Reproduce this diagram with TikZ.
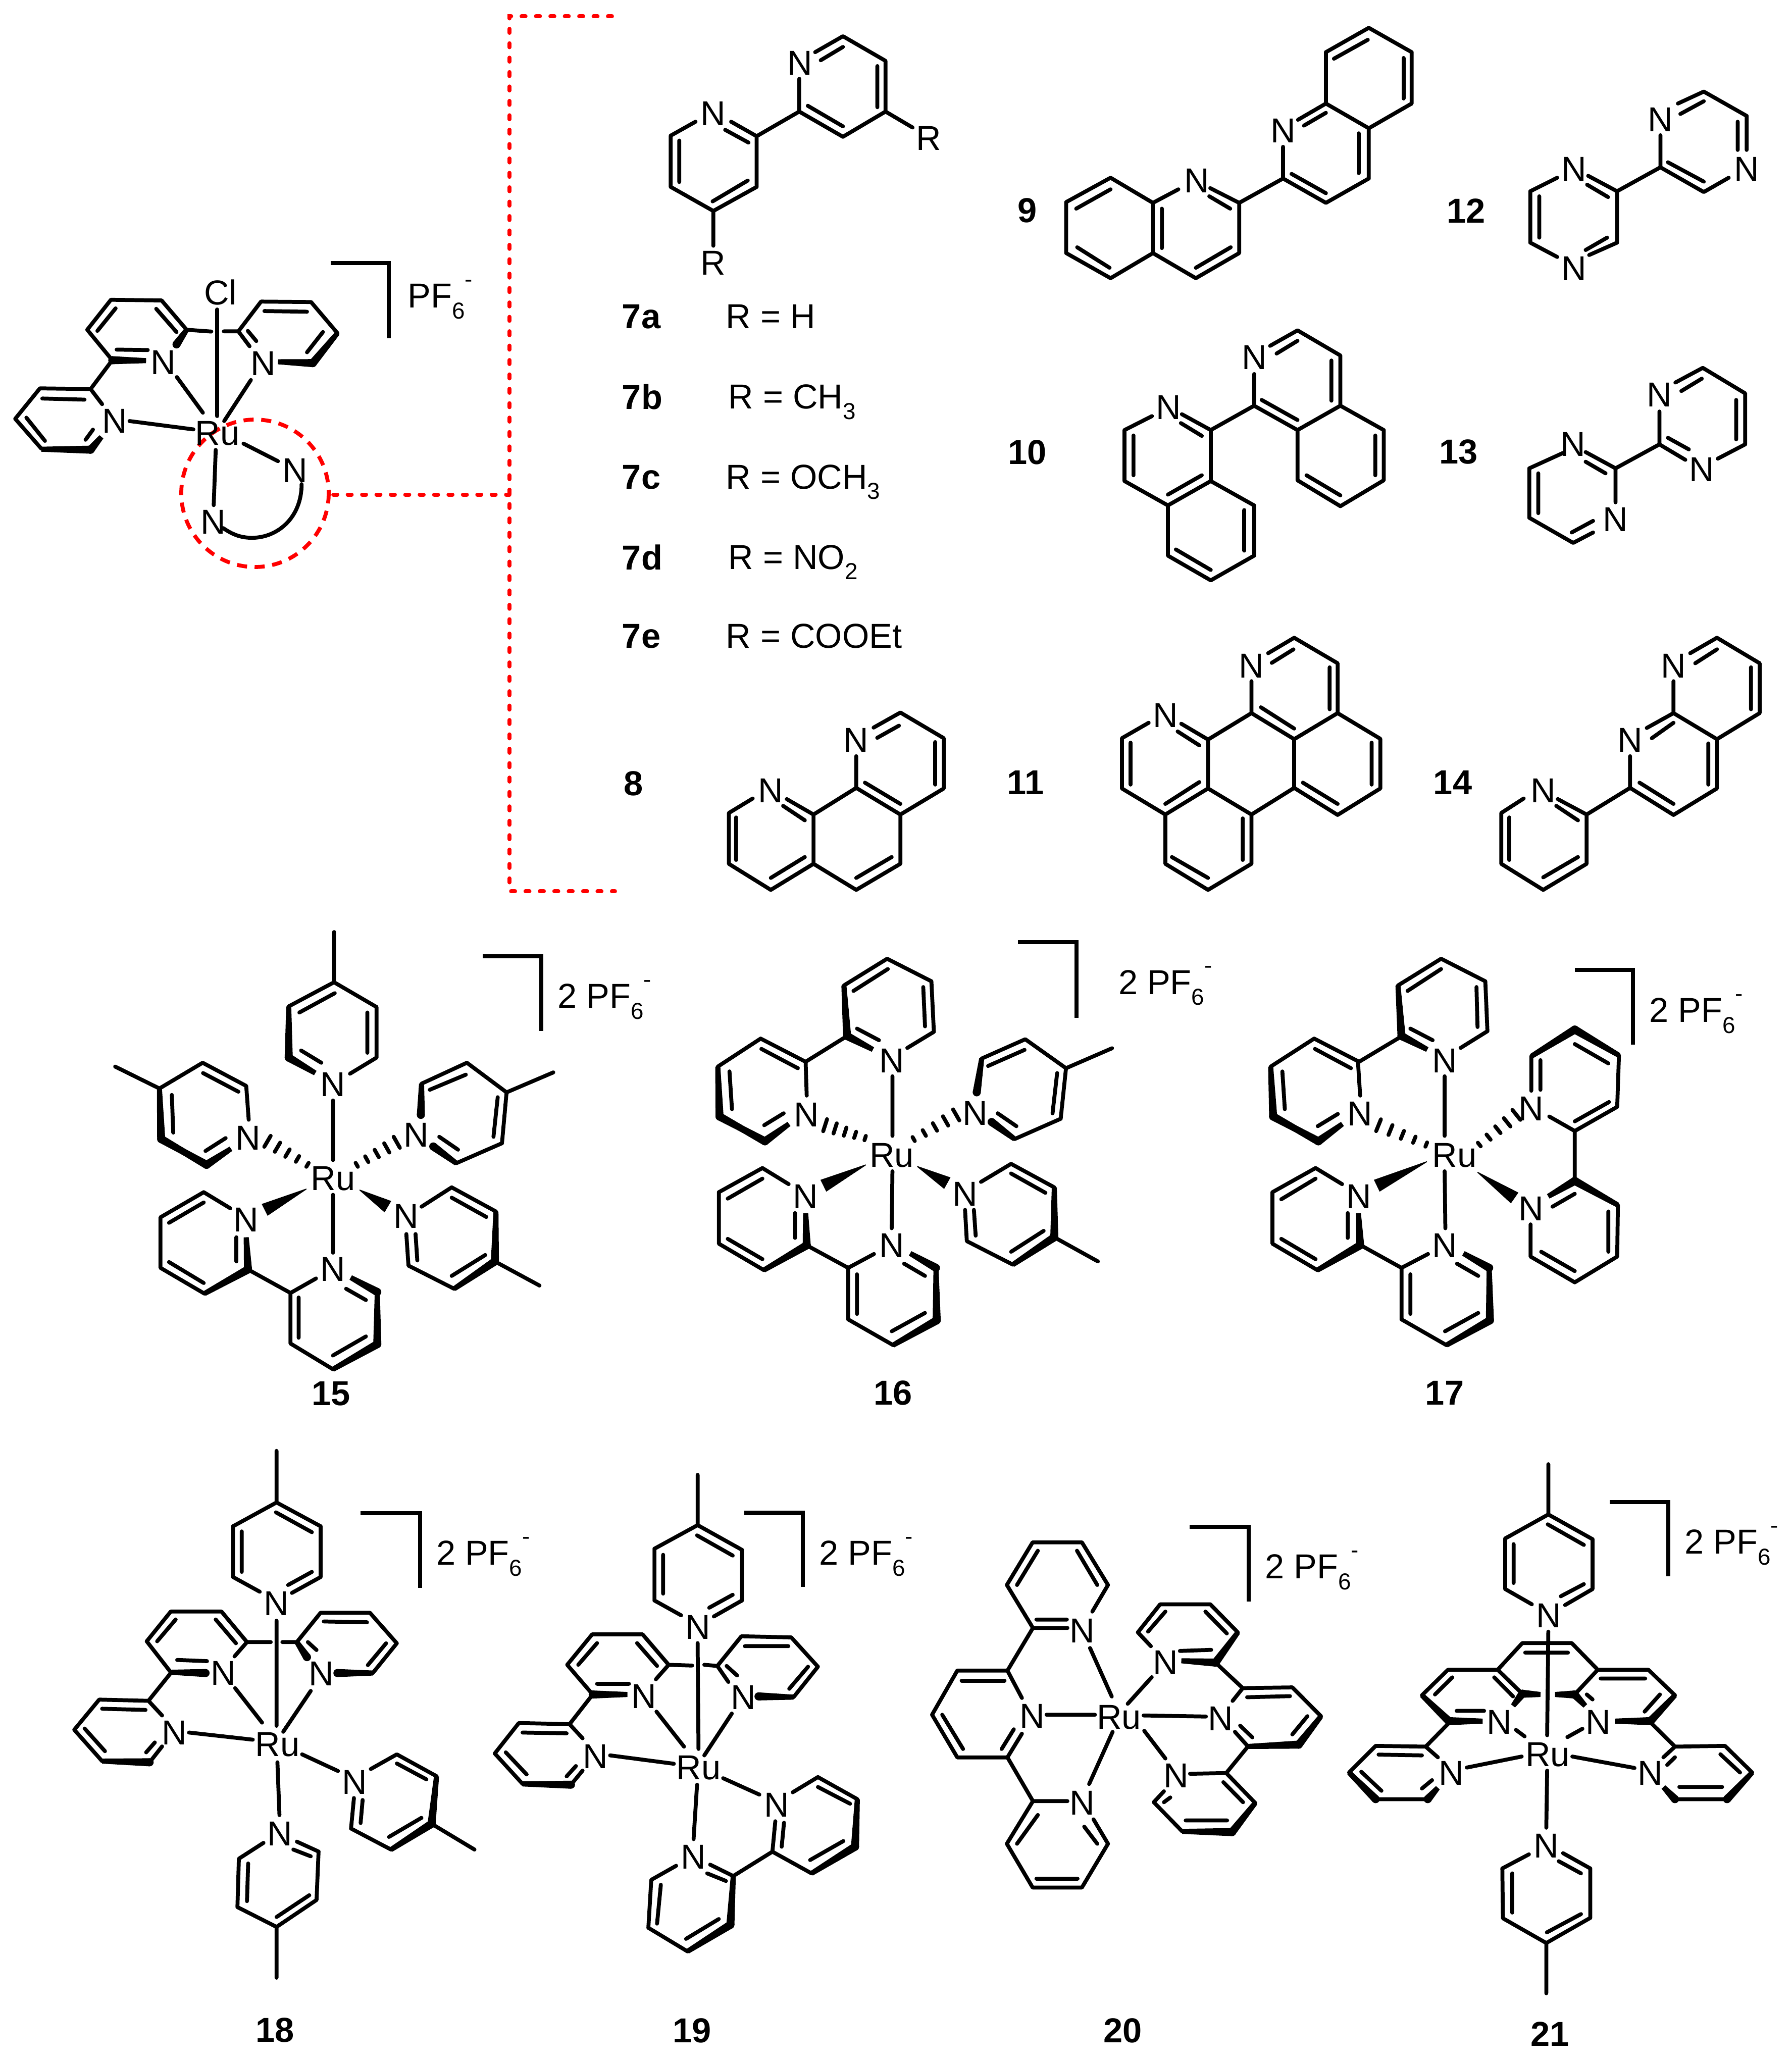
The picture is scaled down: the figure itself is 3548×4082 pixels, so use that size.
\documentclass[tikz,border=0pt]{standalone}
\usepackage{fontspec}
\setmainfont{Liberation Sans}
\definecolor{dashred}{RGB}{255,0,0}
\newcounter{lc}
\newcommand{\smallf}{\fontsize{13}{13}\selectfont}
\newcommand{\pfsix}{PF\raisebox{-0.32em}{\smallf 6}\raisebox{0.6em}{\smallf -}}
\newcommand{\subn}[1]{\raisebox{-0.3em}{\smallf #1}}
\newcommand{\lab}[2]{\stepcounter{lc}\node[atomlabel] (t\thelc) at (#1) {#2};}
\newcommand{\num}[2]{\stepcounter{lc}\node[numlabel] (t\thelc) at (#1) {#2};}
\newcommand{\txt}[2]{\stepcounter{lc}\node[textlabel] (t\thelc) at (#1) {#2};}
\newcommand{\numw}[2]{\stepcounter{lc}\node[numlabel,anchor=west] (t\thelc) at (#1) {#2};}
% unit normal of a bond, in scope units, for offsets given in reference pixels
\def\bbnorm#1,#2;#3,#4;{%
 \pgfmathsetmacro\bbdx{(#3-#1)*\sx}\pgfmathsetmacro\bbdy{(#4-#2)*\sy}%
 \pgfmathsetmacro\bblen{veclen(\bbdx,\bbdy)}%
 \pgfmathsetmacro\bbux{-\bbdy/\bblen/\sx}\pgfmathsetmacro\bbuy{\bbdx/\bblen/\sy}}
\def\bbpoly#1,#2;#3,#4;#5;#6;{%
 \bbnorm#1,#2;#3,#4;%
 \fill[boldb] (#1+#5*\bbux,#2+#5*\bbuy) -- (#3+#6*\bbux,#4+#6*\bbuy) -- (#3-#6*\bbux,#4-#6*\bbuy) -- (#1-#5*\bbux,#2-#5*\bbuy) -- cycle;}
% bold bond: narrower at #1, thick at #2
\def\bbend#1,#2;{\fill[boldb] (#1,#2) ellipse [x radius=8/\sx,y radius=8/\sy];}
\newcommand{\bb}[2]{\bbpoly#1;#2;5;8;\bbend#2;}
% solid wedge: tip at #1, wide at #2
\newcommand{\wdg}[2]{\bbpoly#1;#2;0.8;13;}
% hashed wedge: narrow at #1, wide at #2
\def\hshi#1,#2;#3,#4;{%
 \bbnorm#1,#2;#3,#4;%
 \foreach \t/\h in {0/4.5,0.25/6.5,0.5/8.5,0.75/10.5,1/12.5}{%
  \pgfmathsetmacro\cxx{#1+\t*(#3-#1)}\pgfmathsetmacro\cyy{#2+\t*(#4-#2)}%
  \draw[bond] (\cxx+\h*\bbux,\cyy+\h*\bbuy) -- (\cxx-\h*\bbux,\cyy-\h*\bbuy);}}
\newcommand{\hsh}[2]{\hshi#1;#2;}
\tikzset{
 bond/.style={line width=2.2pt,line cap=round,line join=round,black},
 bracket/.style={line width=2.3pt,line join=miter,black},
 boldb/.style={black},
 atomlabel/.style={inner sep=0pt,font=\fontsize{19.5}{20}\selectfont},
 numlabel/.style={inner sep=0pt,font=\fontsize{19.5}{20}\selectfont\bfseries},
 textlabel/.style={inner sep=0pt,anchor=base west,font=\fontsize{19.5}{20}\selectfont},
 reddash/.style={line width=2.2pt,dashred,dash pattern=on 0.2cm off 0.15cm},
 reddot/.style={line width=2.2pt,dashred,line cap=round,dash pattern=on 0.08cm off 0.205cm},
 zoomed/.style n args={4}{shift={(#1,#2)},xscale=#3/1568,yscale=#4/1568,/utils/exec={\pgfmathsetmacro\sx{#3/1568}\pgfmathsetmacro\sy{#4/1568}}}
}
\begin{document}
\begin{tikzpicture}[x=0.01cm,y=-0.01cm]
\useasboundingbox (0,0) rectangle (3548,4082);
% ---------- red markers
\draw[reddash] (505,977) circle (146);
\coordinate (rt) at (1212,32); \coordinate (rc) at (1009,32);
\coordinate (rb) at (1009,1765); \coordinate (re) at (1218,1765);
\coordinate (rm) at (1009,980); \coordinate (rs) at (660,980);
\draw[reddot] (rt) -- (rc) -- (rb) -- (re);
\draw[reddot] (rs) -- (rm);
% ---------- Ru-Cl complex
\begin{scope}[zoomed={0}{450}{1050}{700}]
\draw[bond] (268,718)--(118,715)--(45,850)--(122,982) (268,718)--(302,785)
 (125,760)--(250,765) (78,845)--(133,948) (275,898)--(253,943)
 (332,590)--(258,455)--(328,322)--(478,325)--(552,455)
 (345,543)--(437,545) (288,460)--(342,360) (462,362)--(522,465)
 (552,455)--(625,463) (662,462)--(705,462) (332,590)--(268,718)
 (705,462)--(772,330)--(920,332)--(998,470) (705,462)--(738,528)
 (733,460)--(758,505) (782,372)--(908,375) (955,465)--(908,555)
 (642,365)--(642,838) (523,665)--(600,823) (742,678)--(663,860)
 (383,860)--(572,897) (638,988)--(632,1233) (720,960)--(822,1038);
\draw[bond] (892,1140) .. controls (892,1290) and (820,1378) .. (745,1378) .. controls (705,1378) and (680,1355) .. (660,1335);
\bb{122,985}{268,987}\bb{300,930}{268,987}
\bb{552,455}{522,520}\bb{432,592}{332,590}
\bb{998,470}{925,603}\bb{822,597}{925,603}
\lab{482,600}{N}\lab{778,605}{N}\lab{340,860}{N}\lab{872,1080}{N}\lab{630,1308}{N}
\lab{643,915}{Ru}\lab{652,290}{Cl}
\txt{1205,358}{\pfsix}
\draw[bracket] (978,160)--(1150,160)--(1150,492);
\end{scope}
% ---------- 7
\begin{scope}[zoomed={1200}{0}{1150}{900}]
\draw[bond] (242,420)--(175,468)--(175,645)--(290,728)--(407,645)--(407,470)--(338,420)
 (385,492)--(322,448) (198,485)--(198,628) (288,695)--(383,623)
 (290,728)--(290,848) (407,470)--(522,385)
 (522,385)--(522,272) (522,385)--(640,472)--(755,385)--(755,210)--(640,125)--(565,180)
 (580,208)--(640,162) (733,228)--(733,370) (545,365)--(640,436) (755,385)--(828,440);
\lab{524,218}{N}\lab{290,392}{N}\lab{872,478}{R}\lab{290,908}{R}
\end{scope}
\begin{scope}[xscale=2.603,yscale=2.603]
\numw{473,241}{7a}\numw{473,302}{7b}\numw{473,363}{7c}\numw{473,424}{7d}\numw{473,484}{7e}
\num{482,596}{8}
\txt{552,250}{R = H}
\txt{554,311}{R = CH\subn{3}}
\txt{552,372}{R = OCH\subn{3}}
\txt{554,433}{R = NO\subn{2}}
\txt{552,493}{R = COOEt}
\end{scope}
% ---------- 9,10,12,13
\begin{scope}[zoomed={2000}{0}{1548}{1200}]
\draw[bond] (287,525)--(202,460)--(113,523)--(113,655)--(202,720)--(287,655)--cycle
 (133,540)--(202,490) (135,640)--(200,693) (305,540)--(305,642)
 (287,525)--(338,490) (287,655)--(373,720)--(460,655)--(460,525)--(402,487)
 (442,540)--(400,508) (443,640)--(373,693) (460,525)--(548,462)
 (548,462)--(548,380) (548,462)--(634,525)--(720,462)--(720,332)--(634,268)--(578,310)
 (590,325)--(634,292) (700,345)--(700,448) (565,450)--(634,500)
 (720,332)--(806,268)--(806,135)--(720,72)--(634,135)--(634,268)
 (650,152)--(718,103) (790,150)--(790,255);
\lab{375,468}{N}\lab{548,338}{N}
\num{35,545}{9}\num{915,545}{12}
% 12
\draw[bond] (1098,460)--(1044,495)--(1044,628)--(1098,665) (1062,508)--(1062,615)
 (1162,660)--(1218,628)--(1218,495)--(1160,455) (1200,510)--(1158,478) (1198,615)--(1155,647)
 (1218,495)--(1305,433) (1305,433)--(1305,350) (1305,433)--(1392,497)--(1442,460)
 (1320,420)--(1392,470) (1340,268)--(1392,237)--(1478,300)--(1478,388)
 (1345,295)--(1392,262) (1460,315)--(1460,388);
\lab{1132,438}{N}\lab{1132,695}{N}\lab{1305,310}{N}\lab{1478,437}{N}
% 10
\num{35,1170}{10}\num{900,1170}{13}
\draw[bond] (285,1077)--(230,1113)--(230,1245)--(317,1308)--(403,1245)--(403,1113)--(345,1072)
 (248,1127)--(248,1230) (317,1280)--(385,1230) (385,1128)--(343,1095) (403,1113)--(490,1050)
 (317,1308)--(317,1438)--(403,1502)--(490,1438)--(490,1308)--(403,1245)
 (333,1422)--(403,1475) (470,1320)--(470,1425)
 (490,1050)--(490,968) (490,1050)--(577,1113)--(663,1050)--(663,920)--(577,855)--(522,895)
 (535,915)--(577,882) (645,933)--(645,1037) (505,1035)--(577,1087)
 (663,1050)--(750,1113)--(750,1243)--(663,1310)--(577,1243)--(577,1113)
 (733,1127)--(733,1230) (595,1230)--(663,1282);
\lab{318,1055}{N}\lab{490,925}{N}
% 13
\draw[bond] (1110,1172)--(1042,1212)--(1042,1340)--(1130,1405)--(1170,1378)
 (1060,1225)--(1060,1328) (1127,1378)--(1170,1348)
 (1215,1300)--(1215,1212)--(1155,1170) (1195,1225)--(1155,1195) (1215,1212)--(1303,1150)
 (1303,1150)--(1303,1065) (1303,1150)--(1355,1190) (1320,1133)--(1362,1163)
 (1420,1187)--(1475,1150)--(1475,1018)--(1390,952)--(1335,990)
 (1457,1035)--(1457,1137) (1347,1012)--(1388,980);
\lab{1130,1150}{N}\lab{1215,1345}{N}\lab{1303,1022}{N}\lab{1388,1215}{N}
\end{scope}
% ---------- 8,11,14
\begin{scope}[zoomed={1300}{1200}{2248}{600}]
\draw[bond] (133,997)--(100,1072)--(100,1335)--(158,1470)--(217,1335)--(217,1080)--(180,1000)
 (205,1110)--(175,1035) (110,1095)--(110,1315) (158,1408)--(205,1300)
 (217,1080)--(276,942)--(337,1080)--(337,1335)--(276,1470)--(217,1335)
 (276,1408)--(325,1300) (276,942)--(276,778) (288,915)--(337,1025)
 (337,1080)--(397,945)--(397,685)--(337,552)--(300,630)
 (385,705)--(385,925) (305,683)--(335,620);
\lab{158,955}{N}\lab{276,695}{N}
\num{510,915}{11}\num{1100,915}{14}
% 11
\draw[bond] (680,605)--(643,685)--(643,945)--(703,1080)--(762,945)--(762,692)--(725,610)
 (655,708)--(655,925) (703,1025)--(750,912) (750,722)--(720,650)
 (762,692)--(822,555)--(881,690)--(881,942)--(822,1080)--(762,945)
 (835,525)--(881,635) (822,555)--(822,390)
 (881,690)--(941,555)--(941,297)--(881,165)--(845,245)
 (930,318)--(930,535) (850,295)--(880,225)
 (941,555)--(1000,688)--(1000,945)--(941,1082)--(881,942)
 (988,708)--(988,925) (893,915)--(941,1025)
 (703,1080)--(703,1335)--(762,1470)--(822,1335)--(822,1080)
 (712,1300)--(762,1408) (810,1100)--(810,1315);
\lab{703,568}{N}\lab{822,310}{N}
% 14
\draw[bond] (1198,997)--(1167,1072)--(1167,1335)--(1225,1470)--(1285,1335)--(1285,1080)--(1245,1000)
 (1178,1095)--(1178,1315) (1225,1405)--(1273,1300) (1273,1110)--(1243,1035)
 (1285,1080)--(1345,942) (1345,942)--(1345,778)
 (1345,942)--(1405,1082)--(1465,945)--(1465,690)--(1405,555)--(1368,632)
 (1358,915)--(1405,1025) (1453,712)--(1453,925) (1375,685)--(1405,605)
 (1405,555)--(1405,390) (1465,690)--(1524,555)--(1524,297)--(1465,165)--(1428,245)
 (1512,318)--(1512,535) (1435,297)--(1465,225);
\lab{1225,955}{N}\lab{1345,695}{N}\lab{1405,310}{N}
\end{scope}
% ---------- 15
\begin{scope}[zoomed={200}{1800}{1100}{1000}]
\draw[bond] (658,72)--(658,228)--(530,303) (658,228)--(778,305)--(778,462)--(703,512)
 (560,322)--(660,262) (752,322)--(752,447) (565,440)--(622,478) (655,595)--(655,780)
 (40,490)--(165,558)--(287,478)--(410,550)--(417,655) (288,510)--(388,568)
 (200,578)--(204,695) (295,752)--(352,712)
 (905,543)--(1033,478)--(1145,570)--(1132,728)--(1003,790)
 (928,562)--(1030,515) (1120,585)--(1108,708) (955,708)--(1008,748) (1145,570)--(1277,508)
 (365,930)--(290,880)--(168,958)--(168,1115)--(292,1195)
 (290,912)--(192,975) (192,1097)--(290,1162) (382,1020)--(382,1095)
 (415,1120)--(535,1193)--(607,1148) (535,1193)--(535,1350)--(655,1430)
 (558,1207)--(558,1332) (655,1387)--(748,1328) (692,1180)--(748,1215) (655,888)--(655,1068)
 (905,925)--(990,865)--(1115,940) (997,1180)--(868,1108)--(862,1010)
 (990,897)--(1088,957) (1085,1075)--(990,1140) (888,1010)--(893,1092) (1112,1095)--(1238,1170);
\bb{530,303}{530,462}\bb{605,510}{530,462}
\bb{165,558}{170,715}\bb{298,795}{170,715}\bb{170,715}{298,795}\bb{367,745}{298,795}
\bb{905,543}{903,640}\bb{1003,790}{938,738}
\bb{292,1195}{415,1120}\bb{410,1020}{415,1120}
\bb{655,1430}{780,1352}\bb{780,1190}{780,1352}\bb{705,1145}{780,1190}
\bb{1115,940}{1112,1095}\bb{997,1180}{1112,1095}
\hsh{583,795}{470,722}\hsh{722,795}{835,725}
\wdg{580,870}{462,935}\wdg{730,873}{810,925}
\lab{655,545}{N}\lab{655,838}{Ru}\lab{415,712}{N}\lab{890,703}{N}\lab{410,965}{N}\lab{655,1120}{N}\lab{862,955}{N}
\draw[bracket] (1078,148)--(1243,148)--(1243,380);
\txt{1288,308}{2 \pfsix}
\num{650,1505}{15}
\end{scope}
% ---------- 16
\begin{scope}[zoomed={1350}{1800}{1100}{1000}]
\draw[bond] (595,520)--(595,705) (637,432)--(712,382)--(705,225)--(580,155)--(458,238)
 (687,365)--(682,243) (582,187)--(485,255) (495,372)--(557,408) (467,395)--(350,475)
 (350,475)--(223,403)--(102,490) (350,475)--(353,580)
 (328,495)--(225,435) (135,505)--(142,622) (233,672)--(288,635)
 (847,465)--(970,405)--(1085,495)--(1070,652)--(940,715)
 (865,488)--(968,438) (1060,510)--(1047,635) (892,635)--(945,675) (1085,495)--(1215,433)
 (302,855)--(228,805)--(105,880)--(105,1040)--(232,1122)
 (130,900)--(228,838) (130,1025)--(228,1088) (320,945)--(320,1022)
 (353,1045)--(470,1115)--(543,1072) (470,1115)--(470,1275)--(597,1355)
 (495,1135)--(495,1258) (593,1312)--(687,1255) (628,1102)--(687,1140) (595,815)--(593,992)
 (845,848)--(930,792)--(1052,865) (935,1105)--(805,1032)--(800,935)
 (930,822)--(1027,882) (1022,1000)--(930,1065) (825,935)--(830,1015) (1052,1020)--(1175,1095);
\bb{458,238}{467,395}\bb{540,437}{467,395}
\bb{102,490}{107,645}\bb{235,722}{107,645}\bb{107,645}{235,722}\bb{303,668}{235,722}
\bb{847,465}{833,570}\bb{940,715}{875,662}
\bb{232,1122}{353,1045}\bb{350,945}{353,1045}
\bb{597,1355}{720,1278}\bb{718,1115}{720,1278}\bb{645,1070}{718,1115}
\bb{1052,865}{1052,1020}\bb{935,1105}{1052,1020}
\hsh{518,712}{405,672}\hsh{655,715}{775,640}
\wdg{520,795}{400,860}\wdg{665,800}{750,852}
\lab{593,472}{N}\lab{352,640}{N}\lab{828,635}{N}\lab{350,893}{N}\lab{593,1045}{N}\lab{800,885}{N}\lab{593,765}{Ru}
\draw[bracket] (950,103)--(1115,103)--(1115,338);
\txt{1232,265}{2 \pfsix}
\num{597,1503}{16}
\end{scope}
% ---------- 17
\begin{scope}[zoomed={2450}{1800}{1098}{1000}]
\draw[bond] (587,520)--(587,705) (632,432)--(708,380)--(702,225)--(577,155)--(455,238)
 (680,367)--(677,243) (577,187)--(482,255) (490,372)--(553,408) (462,398)--(345,475)
 (345,475)--(218,403)--(95,490) (342,478)--(348,580)
 (322,495)--(220,435) (128,505)--(135,622) (228,675)--(285,637)
 (297,855)--(222,805)--(100,880)--(100,1040)--(227,1122)
 (125,902)--(222,838) (125,1025)--(222,1088) (313,945)--(313,1022)
 (350,1045)--(465,1115)--(540,1072) (465,1115)--(465,1275)--(592,1355)
 (490,1135)--(490,1258) (588,1312)--(682,1255) (622,1102)--(682,1140) (587,815)--(589,992)
 (832,565)--(832,458) (1080,455)--(1075,615)--(955,690)--(883,645)
 (858,470)--(858,562) (955,420)--(1050,480) (1052,600)--(955,660) (955,690)--(955,838)
 (1077,920)--(1075,1080)--(955,1160)--(830,1080)--(830,980)
 (892,925)--(955,885) (1050,940)--(1050,1065) (860,1065)--(955,1125);
\bb{455,238}{465,395}\bb{538,437}{465,395}
\bb{95,490}{102,645}\bb{230,722}{102,645}\bb{102,645}{230,722}\bb{298,668}{230,722}
\bb{227,1122}{348,1045}\bb{343,945}{348,1045}
\bb{592,1355}{715,1278}\bb{713,1115}{715,1278}\bb{640,1070}{713,1115}
\bb{832,458}{955,375}\bb{1080,455}{955,375}
\bb{880,893}{955,845}\bb{1077,920}{955,845}
\hsh{535,732}{400,672}\hsh{685,732}{790,640}
\wdg{537,785}{395,860}\wdg{680,818}{785,898}
\lab{587,472}{N}\lab{347,637}{N}\lab{345,893}{N}\lab{587,1045}{N}\lab{832,620}{N}\lab{832,932}{N}\lab{615,765}{Ru}
\draw[bracket] (955,190)--(1120,190)--(1120,422);
\txt{1165,352}{2 \pfsix}
\num{587,1503}{17}
\end{scope}
% ---------- 18
\begin{scope}[zoomed={100}{2850}{900}{1232}]
\draw[bond] (780,30)--(780,160)--(630,220)--(630,348)--(722,385) (780,160)--(932,220)--(932,348)--(833,388)
 (660,233)--(660,335) (778,185)--(902,235) (902,335)--(820,368) (780,458)--(780,723)
 (415,588)--(332,510)--(415,435)--(590,435)--(678,512)--(635,548)
 (368,510)--(432,455) (570,455)--(640,515) (437,557)--(540,560) (678,512)--(760,512) (800,512)--(850,512) (415,590)--(338,660)
 (338,660)--(168,657)--(82,733)--(178,812) (342,815)--(385,775) (338,660)--(385,697)
 (178,680)--(328,683) (118,730)--(188,787) (330,790)--(360,765)
 (850,512)--(932,438)--(1102,438)--(1195,515)--(1112,590)
 (943,460)--(1092,462) (1158,515)--(1095,570) (888,512)--(918,532)
 (637,628)--(730,715) (898,635)--(803,738) (478,740)--(698,758) (868,795)--(992,837) (783,815)--(790,948)
 (735,1018)--(650,1058)--(645,1180)--(780,1230)--(918,1162)--(925,1040)--(850,1015)
 (682,1070)--(678,1165) (780,1205)--(893,1150) (898,1052)--(838,1035) (780,1230)--(780,1358)
 (1105,832)--(1195,795)--(1332,850) (1175,1035)--(1037,982)--(1047,905)
 (1195,818)--(1297,858) (1280,955)--(1168,1003) (1077,910)--(1070,968) (1315,970)--(1463,1035);
\bb{415,588}{535,590}\bb{178,812}{342,815}\bb{1112,590}{990,590}\bb{850,512}{885,550}
\bb{1332,850}{1315,970}\bb{1175,1035}{1315,970}
\lab{780,415}{N}\lab{597,590}{N}\lab{935,592}{N}\lab{428,740}{N}\lab{783,770}{Ru}\lab{792,995}{N}\lab{1050,865}{N}
\draw[bracket] (1070,187)--(1275,187)--(1275,375);
\txt{1330,318}{2 \pfsix}
\num{775,1490}{18}
\end{scope}
% ---------- 19
\begin{scope}[zoomed={950}{2900}{900}{1182}]
\draw[bond] (752,28)--(752,160)--(603,222)--(603,358)--(695,397) (752,160)--(905,225)--(905,358)--(808,400)
 (633,238)--(633,340) (750,187)--(873,240) (873,343)--(792,377) (752,470)--(755,748)
 (390,605)--(302,527)--(388,447)--(562,447)--(652,527)--(608,565)
 (340,527)--(405,470) (543,470)--(612,530) (405,577)--(515,577) (652,527)--(733,529) (775,527)--(820,530) (390,605)--(310,683)
 (310,683)--(135,680)--(52,760)--(148,840) (315,842)--(355,805) (310,683)--(355,720)
 (148,705)--(300,707) (90,757)--(162,815) (300,820)--(332,793)
 (858,572)--(820,530)--(903,452)--(1075,455)--(1167,532)--(1083,612)
 (915,478)--(1065,478) (1133,532)--(1068,590) (852,530)--(888,555)
 (610,650)--(705,742) (870,655)--(775,765) (450,765)--(670,787) (840,825)--(965,868) (750,842)--(738,985)
 (678,1055)--(592,1092)--(582,1218)--(717,1280) (875,1082)--(795,1052)
 (625,1105)--(612,1207) (712,1247)--(825,1195) (850,1095)--(785,1075) (875,1082)--(1010,1018)
 (1020,938)--(1010,1018)--(1145,1075) (1303,880)--(1167,822)--(1080,862)
 (1050,942)--(1042,1005) (1140,1040)--(1255,990) (1167,848)--(1278,892);
\bb{510,605}{390,605}\bb{148,840}{315,842}\bb{1083,612}{962,610}
\bb{717,1280}{865,1210}\bb{875,1082}{865,1210}
\bb{1145,1075}{1295,1005}\bb{1303,880}{1295,1005}
\lab{753,428}{N}\lab{567,610}{N}\lab{910,613}{N}\lab{400,768}{N}\lab{755,797}{Ru}\lab{738,1032}{N}\lab{1025,895}{N}
\draw[bracket] (913,128)--(1115,128)--(1115,322);
\txt{1170,265}{2 \pfsix}
\num{733,1488}{19}
\end{scope}
% ---------- 20
\begin{scope}[zoomed={1800}{2950}{900}{1132}]
\draw[bond] (547,380)--(428,380)--(338,262)--(427,145)--(597,145)--(687,262)--(633,335)
 (373,262)--(445,168) (580,168)--(650,262) (440,357)--(545,357) (625,435)--(700,568)
 (428,380)--(340,497) (390,572)--(340,497)--(167,497)--(80,618)--(167,735)--(340,735)--(390,670)
 (182,525)--(330,525) (115,618)--(187,712) (320,712)--(362,658) (475,618)--(642,618) (703,665)--(622,808)
 (340,735)--(428,855)--(547,855) (428,855)--(338,972)--(427,1092)--(597,1092)--(687,972)--(637,905)
 (373,972)--(445,893) (440,1068)--(582,1068) (650,972)--(605,925)
 (755,588)--(838,515) (810,620)--(1025,623) (812,662)--(885,738)
 (835,430)--(790,392)--(867,315)--(1040,315)--(1135,392)
 (825,390)--(885,335) (1023,335)--(1097,395) (935,443)--(1043,440) (1058,475)--(1152,545)
 (1117,580)--(1152,545)--(1323,543)--(1422,622) (1170,705)--(1125,665)
 (1167,570)--(1315,567) (1375,622)--(1323,672) (1143,648)--(1185,680) (1170,705)--(1095,778)
 (970,780)--(1095,778)--(1195,860) (943,938)--(845,858)--(880,828)
 (1085,803)--(1153,858) (955,908)--(1098,908) (880,858)--(902,845);
\bb{1135,392}{1058,475}\bb{940,470}{1058,475}
\bb{1422,622}{1345,700}\bb{1170,705}{1345,700}
\bb{1195,860}{1115,940}\bb{943,938}{1115,940}
\lab{598,388}{N}\lab{425,622}{N}\lab{725,625}{Ru}\lab{598,860}{N}\lab{885,475}{N}\lab{1075,628}{N}\lab{922,785}{N}
\draw[bracket] (968,102)--(1172,102)--(1172,308);
\txt{1228,245}{2 \pfsix}
\num{738,1485}{20}
\end{scope}
% ---------- 21
\begin{scope}[zoomed={2650}{2900}{898}{1182}]
\draw[bond] (727,0)--(727,132)--(578,195)--(578,328)--(670,368) (727,132)--(880,197)--(880,328)--(785,370)
 (607,210)--(607,312) (725,158)--(850,212) (850,315)--(770,347) (727,440)--(723,712)
 (552,540)--(637,470)--(808,470)--(898,540) (647,495)--(795,495)
 (637,603)--(552,540)--(380,540)--(290,607)
 (335,605)--(395,560) (410,648)--(505,648) (540,560)--(605,610)
 (383,680)--(303,742)--(130,740)--(38,810) (130,880)--(310,880) (303,742)--(345,770)
 (140,763)--(290,765) (80,808)--(150,858) (290,852)--(325,830)
 (818,605)--(898,540)--(1073,540)--(1165,607)
 (908,563)--(1062,563) (1113,605)--(1060,650) (860,605)--(880,618)
 (1080,678)--(1165,742)--(1338,740)--(1432,810) (1345,880)--(1165,880) (1165,742)--(1125,770)
 (1322,762)--(1390,810) (1180,848)--(1328,848) (1138,790)--(1165,770)
 (615,698)--(645,715) (793,717)--(845,695) (445,797)--(635,768) (810,768)--(1025,798) (723,805)--(720,955)
 (660,1025)--(568,1062)--(570,1193)--(720,1258)--(872,1192)--(872,1062)--(778,1022)
 (602,1075)--(602,1178) (722,1230)--(840,1182) (840,1075)--(763,1043) (720,1258)--(720,1390);
\bb{290,607}{383,675}\bb{500,675}{383,675}\bb{700,605}{637,603}\bb{605,635}{637,603}
\bb{38,810}{130,880}\bb{345,850}{310,880}
\bb{1165,607}{1080,675}\bb{957,675}{1080,675}\bb{750,605}{818,605}\bb{855,635}{818,605}
\bb{1432,810}{1345,880}\bb{1125,848}{1165,880}
\lab{728,398}{N}\lab{558,678}{N}\lab{900,678}{N}\lab{392,812}{N}\lab{1080,812}{N}\lab{725,763}{Ru}\lab{720,1003}{N}
\draw[bracket] (940,100)--(1142,100)--(1142,295);
\txt{1197,235}{2 \pfsix}
\num{733,1497}{21}
\end{scope}
\end{tikzpicture}
\end{document}
